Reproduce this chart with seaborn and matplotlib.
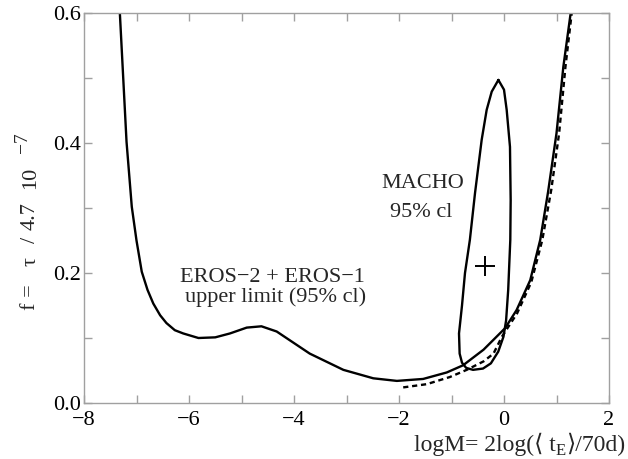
import matplotlib
matplotlib.use("Agg")
import matplotlib.pyplot as plt
import seaborn as sns
from matplotlib.ticker import MultipleLocator

# EROS-2 + EROS-1 upper limit (solid)
eros_x = [-7.33, -7.19, -7.09, -7.00, -6.90, -6.79, -6.68, -6.55, -6.43, -6.27, -6.11,
          -5.82, -5.50, -5.22, -4.90, -4.62, -4.33, -3.70, -3.06, -2.49, -2.04, -1.54,
          -1.09, -0.78, -0.39, 0.02, 0.24, 0.50, 0.69, 0.84, 1.00, 1.13, 1.27]
eros_y = [0.62, 0.402, 0.302, 0.250, 0.202, 0.174, 0.153, 0.135, 0.123, 0.112, 0.107,
          0.100, 0.101, 0.107, 0.116, 0.118, 0.110, 0.076, 0.051, 0.038, 0.034, 0.037,
          0.047, 0.058, 0.082, 0.115, 0.143, 0.189, 0.251, 0.325, 0.415, 0.517, 0.600]

# dashed limit curve
dash_x = [-1.92, -1.47, -1.03, -0.71, -0.39, -0.20, -0.04, 0.25, 0.52, 0.73, 0.90, 1.05, 1.17, 1.29]
dash_y = [0.024, 0.029, 0.040, 0.051, 0.064, 0.076, 0.102, 0.138, 0.186, 0.251, 0.328, 0.415, 0.517, 0.600]

# MACHO 95% cl contour
macho_x = [-0.107, -0.234, -0.33, -0.425, -0.552, -0.65, -0.743, -0.80, -0.857, -0.845,
           -0.80, -0.72, -0.59, -0.40, -0.25, -0.11, -0.01, 0.04, 0.08, 0.12, 0.127,
           0.114, 0.051, 0.0, -0.107]
macho_y = [0.497, 0.479, 0.451, 0.405, 0.323, 0.251, 0.200, 0.150, 0.107, 0.076,
           0.062, 0.054, 0.051, 0.053, 0.061, 0.079, 0.102, 0.127, 0.174, 0.251, 0.312,
           0.394, 0.451, 0.482, 0.497]

macho_best_x = [-0.362]
macho_best_y = [0.211]

x_ticks = [-8, -6, -4, -2, 0, 2]
y_ticks = [0.0, 0.2, 0.4, 0.6]

sns.set_theme(style="ticks")
plt.rcParams['font.family'] = ['Liberation Serif', 'DejaVu Serif']

W, H = 628, 459
fig = plt.figure(figsize=(W/100, H/100), dpi=100)
ax = fig.add_axes([84/W, 1 - 403/H, (609-84)/W, (403-13)/H])

lw = 1.7
sns.lineplot(x=eros_x, y=eros_y, sort=False, estimator=None, color='black', lw=lw, ax=ax)
sns.lineplot(x=dash_x, y=dash_y, sort=False, estimator=None, color='black', lw=lw,
             ax=ax, dashes=False, linestyle=(0, (2.2, 1.6)))
sns.lineplot(x=macho_x, y=macho_y, sort=False, estimator=None, color='black', lw=lw, ax=ax)
ax.plot(macho_best_x, macho_best_y, marker='+', ms=14, mew=1.4, color='black', ls='none')

ax.set_xlim(-8, 2)
ax.set_ylim(0, 0.6)
ax.set_xticks(x_ticks)
ax.set_yticks(y_ticks)
ax.set_xticklabels([f"{t:d}".replace('-', '\u2212') for t in x_ticks])
ax.set_yticklabels([f"{t:.1f}" for t in y_ticks])
ax.xaxis.set_minor_locator(MultipleLocator(1))
ax.yaxis.set_minor_locator(MultipleLocator(0.1))

gray = '#a0a0a0'
for s in ax.spines.values():
    s.set_color(gray)
    s.set_linewidth(1.0)
ax.tick_params(which='both', direction='in', top=True, right=True, color=gray,
               width=1.0, labelsize=16, labelcolor='black', length=5.5)
ax.tick_params(axis='x', pad=6.0)
ax.tick_params(axis='y', pad=2)
ax.set_xlabel('')
ax.set_ylabel('')

fs = 16
ax.text(-4.41, 0.1866, 'EROS\u22122 + EROS\u22121', ha='center', va='baseline', fontsize=fs)
ax.text(-4.35, 0.156, 'upper limit (95% cl)', ha='center', va='baseline', fontsize=fs)
ax.text(-1.54, 0.331, 'MACHO', ha='center', va='baseline', fontsize=fs)
ax.text(-1.57, 0.2866, '95% cl', ha='center', va='baseline', fontsize=fs)

# x label, composed from pieces (subscript E) and right-aligned at the image edge
renderer = fig.canvas.get_renderer()
xlab_pieces = [('logM= 2log(\u27e8 t', 17, 0.0), ('E', 12, -4.0), ('\u27e9/70d)', 17, 0.0)]
objs = []
for txt, size, dy in xlab_pieces:
    t = fig.text(0, 0, txt, fontsize=size, ha='left', va='baseline')
    objs.append((t, dy, t.get_window_extent(renderer).width))
total = sum(w for _, _, w in objs)
x0 = 625 - total
base = 451
for t, dy, w in objs:
    t.set_position((x0 / W, 1 - (base - dy) / H))
    x0 += w

# y label, composed from pieces to match spacing
ylab_pieces = [('f =', 297.5, 35, fs), ('\u03c4', 262, 35, fs), ('/', 240, 35, fs),
               ('4.7', 216, 35, fs), ('10', 177.5, 35, fs), ('\u22127', 143, 27, 14)]
for txt, yc, xb, size in ylab_pieces:
    fig.text(xb/W, 1 - yc/H, txt, rotation=90, rotation_mode='anchor',
             ha='center', va='baseline', fontsize=size)

fig.savefig('out.png', dpi=100)
